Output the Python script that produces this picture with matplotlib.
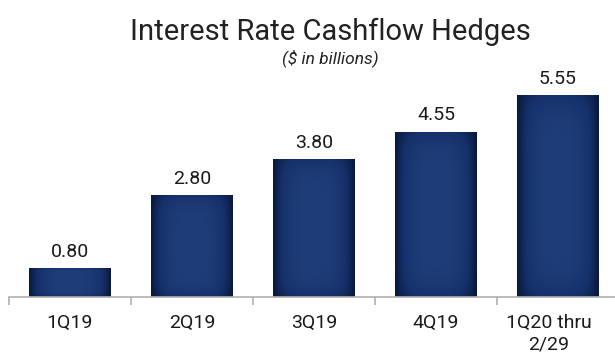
import numpy as np
import matplotlib.pyplot as plt
from matplotlib.colors import LinearSegmentedColormap
from matplotlib.patches import Rectangle
from matplotlib.transforms import ScaledTranslation

categories = ["1Q19", "2Q19", "3Q19", "4Q19", "1Q20 thru\n2/29"]
hedges = [0.80, 2.80, 3.80, 4.55, 5.55]

plt.rcParams["font.family"] = ["Roboto", "DejaVu Sans"]

fig = plt.figure(figsize=(6.15, 3.6), dpi=100)
ax = fig.add_axes([9 / 615, 63 / 360, 610 / 615, 218 / 360])

x = np.arange(len(categories))
width = 0.67
bars = ax.bar(x, hedges, width=width, color="none", edgecolor="none")

# shaded navy fill: darker towards the bar edges
navy = LinearSegmentedColormap.from_list("navy", ["#08183a", "#15306a", "#1f3d78"])
gx = np.linspace(-1, 1, 200)
gy = np.linspace(-1, 1, 200)
GX, GY = np.meshgrid(gx, gy)
shade = (1 - np.abs(GX) ** 3) * (1 - 0.5 * np.abs(GY) ** 6)

for b in bars:
    x0, w, h = b.get_x(), b.get_width(), b.get_height()
    im = ax.imshow(shade, cmap=navy, vmin=0, vmax=1, aspect="auto",
                   extent=(x0, x0 + w, 0, h), zorder=2, interpolation="bilinear")
    clip = Rectangle((x0, 0), w, h, transform=ax.transData, facecolor="none", edgecolor="none")
    ax.add_patch(clip)
    im.set_clip_path(clip)
    ax.text(x0 + w / 2, h + 0.45, f"{h:.2f}", ha="center", va="center",
            fontsize=14, color="#1a1a1a")

ax.set_xlim(-0.5, len(categories) - 0.5)
ax.set_ylim(0, 6)

for side in ["top", "right", "left"]:
    ax.spines[side].set_visible(False)
ax.spines["bottom"].set_color("#b0b0b0")
ax.spines["bottom"].set_linewidth(1.2)
ax.spines["bottom"].set_bounds(-0.5, 4.6)
ax.spines["bottom"].set_clip_on(False)
ax.set_yticks([])

ax.set_xticks(x)
ax.set_xticklabels(categories, fontsize=14, color="#1a1a1a", linespacing=1.3, va="top")
ax.tick_params(axis="x", which="major", length=0, pad=12)
ax.set_xticks(np.arange(-0.5, len(categories)), minor=True)
ax.tick_params(axis="x", which="minor", length=6, color="#b0b0b0", width=1.2)

# the last, two-line label sits a little left of its bar
last = ax.get_xticklabels()[-1]
last.set_transform(last.get_transform() + ScaledTranslation(-0.09, 0, fig.dpi_scale_trans))

fig.text(0.537, 0.912, "Interest Rate Cashflow Hedges", ha="center", va="center",
         fontsize=21, color="#222222")
fig.text(0.537, 0.838, "($ in billions)", ha="center", va="center",
         fontsize=12.5, style="italic", color="#222222")

fig.savefig("out.png", dpi=100)
